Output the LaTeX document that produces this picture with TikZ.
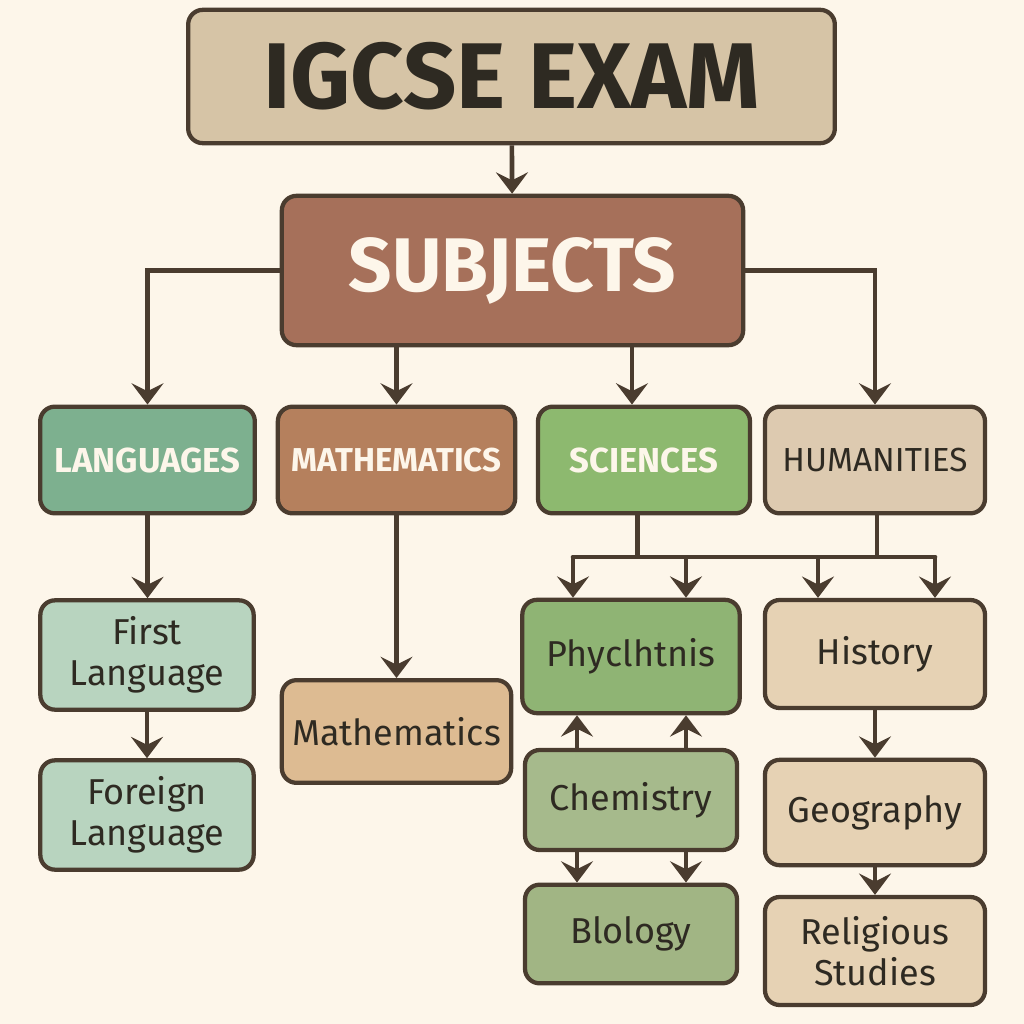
\documentclass[tikz,border=0pt]{standalone}
\usepackage{fontspec}
\setmainfont{Fira Sans}
\usepackage{tikz}
\usetikzlibrary{arrows.meta}

\definecolor{paper}{HTML}{FDF6EA}
\definecolor{ink}{HTML}{4A3C2F}
\definecolor{txt}{HTML}{2E2A22}
\definecolor{examfill}{HTML}{D6C4A6}
\definecolor{subjfill}{HTML}{A6705A}
\definecolor{langfill}{HTML}{7DB08F}
\definecolor{mathfill}{HTML}{B5805D}
\definecolor{scifill}{HTML}{8DB96F}
\definecolor{humfill}{HTML}{DDCAB0}
\definecolor{langsub}{HTML}{B8D4BF}
\definecolor{mathsub}{HTML}{DDBB92}
\definecolor{physfill}{HTML}{8FB474}
\definecolor{chemfill}{HTML}{A6BA8C}
\definecolor{biofill}{HTML}{A1B584}
\definecolor{humsub}{HTML}{E6D2B4}

\tikzset{
  box/.style={draw=ink, line width=3.2pt, rounded corners=11pt, align=center, inner sep=0pt, text=txt},
  head/.style={box, font=\bfseries\fontsize{26}{28}\selectfont, text=paper},
  leaf/.style={box, font=\fontsize{27}{31}\selectfont},
  line/.style={draw=ink, line width=3.5pt},
  conn/.style={line, -{Stealth[length=16pt,width=24pt,inset=6pt]}},
}

\begin{document}
\begin{tikzpicture}[x=0.75pt,y=0.75pt,yscale=-1,xscale=1]
% background, fixes the page
\fill [paper] (0,0) rectangle (1024,1024);
\useasboundingbox (0,0) rectangle (1024,1024);

% Top boxes
\node (exam) [box, fill=examfill, minimum width=485pt, minimum height=100pt, font=\bfseries\fontsize{70}{72}\selectfont] at (511.5,76.5) {IGCSE EXAM};
\node (subj) [box, fill=subjfill, minimum width=346pt, minimum height=112pt, text=paper, font=\bfseries\fontsize{57}{60}\selectfont] at (512.5,270.5) {SUBJECTS};

% Subject groups
\node (lang) [head, fill=langfill, minimum width=161pt, minimum height=80pt] at (147.5,460) {LANGUAGES};
\node (mathh) [head, fill=mathfill, minimum width=178pt, minimum height=80pt, font=\bfseries\fontsize{24.8}{27}\selectfont] at (396.5,460) {MATHEMATICS};
\node (sci) [head, fill=scifill, minimum width=159pt, minimum height=80pt] at (644,460) {SCIENCES};
\node (hum) [box, fill=humfill, minimum width=165pt, minimum height=80pt, font=\fontsize{25}{28}\selectfont] at (875,460) {HUMANITIES};

% Single subjects
\node (first) [leaf, fill=langsub, minimum width=160pt, minimum height=82pt] at (147,655) {First\\Language};
\node (foreign) [leaf, fill=langsub, minimum width=160pt, minimum height=82pt] at (147,815) {Foreign\\Language};
\node (maths) [leaf, fill=mathsub, minimum width=172pt, minimum height=77pt] at (396.5,731.5) {Mathematics};
\node (phys) [leaf, fill=physfill, minimum width=163pt, minimum height=85pt] at (631,656.5) {Phyclhtnis};
\node (chem) [leaf, fill=chemfill, minimum width=159pt, minimum height=75pt] at (631,800) {Chemistry};
\node (bio) [leaf, fill=biofill, minimum width=159pt, minimum height=74pt] at (631,934) {Blology};
\node (hist) [leaf, fill=humsub, minimum width=165pt, minimum height=81pt] at (875,654) {History};
\node (geo) [leaf, fill=humsub, minimum width=165pt, minimum height=79pt] at (875,812.5) {Geography};
\node (rel) [leaf, fill=humsub, minimum width=165pt, minimum height=81pt] at (875,951) {Religious\\Studies};

% bus between sciences and humanities
\coordinate (b1) at (573,557);
\coordinate (b2) at (686,557);
\coordinate (b3) at (818,557);
\coordinate (b4) at (935,557);

% Connectors
\draw [conn] (exam) -- (subj);
\draw [conn] (subj.west) -| (lang.north);
\draw [conn] (subj.east) -| (hum.north);
\draw [conn] (mathh.north |- subj.south) -- (mathh.north);
\draw [conn] ([xshift=-9pt]sci.north |- subj.south) -- ([xshift=-9pt]sci.north);
\draw [conn] (lang.south) -- (lang.south |- first.north);
\draw [conn] (first) -- (foreign);
\draw [conn] (mathh) -- (maths);
\draw [line] ([xshift=-5pt]sci.south) -- ([xshift=-5pt]sci.south |- b1);
\draw [line] ([xshift=1.5pt]hum.south) -- ([xshift=1.5pt]hum.south |- b1);
\draw [line, line cap=round] (b1) -- (b4);
\draw [conn] (b1) -- (b1 |- phys.north);
\draw [conn] (b2) -- (b2 |- phys.north);
\draw [conn] (b3) -- (b3 |- hist.north);
\draw [conn] (b4) -- (b4 |- hist.north);
\draw [conn] ([xshift=-40.5pt]chem.north) -- ([xshift=-40.5pt]phys.south);
\draw [conn] ([xshift=41.25pt]chem.north) -- ([xshift=41.25pt]phys.south);
\draw [conn] ([xshift=-40.5pt]chem.south) -- ([xshift=-40.5pt]bio.north);
\draw [conn] ([xshift=41.25pt]chem.south) -- ([xshift=41.25pt]bio.north);
\draw [conn] (hist) -- (geo);
\draw [conn] (geo) -- (rel);

\end{tikzpicture}
\end{document}
